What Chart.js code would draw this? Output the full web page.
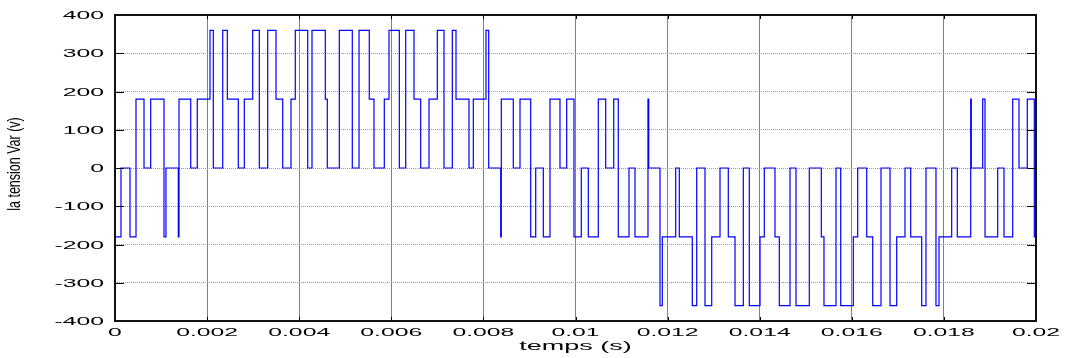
<!DOCTYPE html>
<html>
<head>
<meta charset="utf-8">
<script src="https://cdn.jsdelivr.net/npm/chart.js@4"></script>
<style>
html, body { margin: 0; padding: 0; background: #fff; }
#wrap { width: 1067px; height: 358px; }
</style>
</head>
<body>
<div id="wrap"><canvas id="chart" width="1067" height="358"></canvas></div>
<script>
// instants de commutation (s) et niveau de tension qui démarre à cet instant (V)
const temps = [
    0, 0, 0.000130, 0.000326, 0.000456, 0.000630, 0.000775, 0.001064, 0.001107, 0.001375,
    0.001390, 0.001644, 0.001787, 0.002063, 0.002135, 0.002339, 0.002439, 0.002678, 0.002808, 0.002990,
    0.003134, 0.003316, 0.003496, 0.003642, 0.003822, 0.003915, 0.004185, 0.004278, 0.004567, 0.004610,
    0.004871, 0.005153, 0.005299, 0.005522, 0.005624, 0.005848, 0.005950, 0.006174, 0.006313, 0.006493,
    0.006638, 0.006819, 0.006999, 0.007144, 0.007325, 0.007405, 0.007687, 0.007781, 0.008056, 0.008115,
    0.008376, 0.008389, 0.008649, 0.008795, 0.009027, 0.009136, 0.009301, 0.009446, 0.009663, 0.009809,
    0.009967, 0.010126, 0.010278, 0.010495, 0.010656, 0.010830, 0.010929, 0.011162, 0.011292, 0.011574,
    0.011590, 0.011835, 0.011885, 0.012176, 0.012254, 0.012536, 0.012632, 0.012812, 0.012958, 0.013138,
    0.013318, 0.013464, 0.013644, 0.013774, 0.014007, 0.014100, 0.014332, 0.014426, 0.014658, 0.014788,
    0.015077, 0.015338, 0.015396, 0.015657, 0.015759, 0.016033, 0.016128, 0.016324, 0.016454, 0.016634,
    0.016830, 0.016975, 0.017155, 0.017279, 0.017518, 0.017611, 0.017828, 0.017894, 0.018169, 0.018291,
    0.018582, 0.018595, 0.018842, 0.018893, 0.019168, 0.019305, 0.019494, 0.019631, 0.019811, 0.019963,
    0.020000
];
const tension = [
    180, -180, 0, -180, 180, 0, 180, -180, 0, -180,
    180, 0, 180, 360, 0, 360, 180, 0, 180, 360,
    0, 360, 180, 0, 180, 360, 0, 360, 180, 0,
    360, 0, 360, 180, 0, 180, 360, 0, 360, 180,
    0, 180, 360, 0, 360, 180, 0, 180, 360, 0,
    -180, 180, 0, 180, -180, 0, -180, 180, 0, 180,
    -180, 0, -180, 180, 0, 180, -180, 0, -180, 180,
    0, -360, -180, 0, -180, -360, 0, -360, -180, 0,
    -180, -360, 0, -360, -180, 0, -180, -360, 0, -360,
    0, -180, -360, 0, -360, -180, 0, -180, -360, 0,
    -360, -180, 0, -180, -360, 0, -360, -180, 0, -180,
    180, 0, 180, -180, 0, -180, 180, 0, 180, -180,
    -180
];

// graduations
const xTicks = [0, 0.002, 0.004, 0.006, 0.008, 0.01, 0.012, 0.014, 0.016, 0.018, 0.02];
const xTickLabels = ['0', '0.002', '0.004', '0.006', '0.008', '0.01', '0.012', '0.014', '0.016', '0.018', '0.02'];
const yTicks = [400, 300, 200, 100, 0, -100, -200, -300, -400];
const yTickLabels = ['400', '300', '200', '100', '0', '-100', '-200', '-300', '-400'];

const xTitle = 'temps (s)';
const yTitle = 'la tension Var (v)';

const FONT = '"Liberation Sans", Arial, sans-serif';
const STRETCH = 2.25; // l'image d'origine est étirée horizontalement

// Texte étiré (comme dans la figure d'origine)
function stretchedText(ctx, txt, x, y, align, size, sx) {
    ctx.save();
    ctx.translate(x, y);
    ctx.scale(sx, 1);
    ctx.font = size + 'px ' + FONT;
    ctx.textAlign = align;
    ctx.textBaseline = 'alphabetic';
    ctx.fillText(txt, 0, 0);
    ctx.restore();
}

// Cadre, petites graduations internes et libellés façon Matlab
const matlabAxes = {
    id: 'matlabAxes',
    afterDraw(chart) {
        const ctx = chart.ctx;
        const a = chart.chartArea;
        const xs = chart.scales.x;
        const ys = chart.scales.y;
        ctx.save();

        ctx.strokeStyle = '#000';
        ctx.lineWidth = 1;
        ctx.beginPath();
        xTicks.forEach(v => {
            const px = Math.round(xs.getPixelForValue(v)) + 0.5;
            ctx.moveTo(px, a.top); ctx.lineTo(px, a.top + 4);
            ctx.moveTo(px, a.bottom); ctx.lineTo(px, a.bottom - 4);
        });
        yTicks.forEach(v => {
            const py = Math.round(ys.getPixelForValue(v)) + 0.5;
            ctx.moveTo(a.left, py); ctx.lineTo(a.left + 9, py);
            ctx.moveTo(a.right, py); ctx.lineTo(a.right - 9, py);
        });
        ctx.stroke();

        ctx.lineWidth = 2;
        ctx.strokeStyle = '#111';
        ctx.strokeRect(a.left, a.top, a.right - a.left, a.bottom - a.top);

        ctx.fillStyle = '#000';
        yTicks.forEach((v, i) => {
            stretchedText(ctx, yTickLabels[i], 104, ys.getPixelForValue(v) + 4, 'right', 11, STRETCH);
        });
        xTicks.forEach((v, i) => {
            stretchedText(ctx, xTickLabels[i], xs.getPixelForValue(v), 336, 'center', 11, STRETCH);
        });
        stretchedText(ctx, xTitle, (a.left + a.right) / 2, 350, 'center', 12, STRETCH);

        // titre vertical
        ctx.save();
        ctx.translate(20, (a.top + a.bottom) / 2 - 4);
        ctx.rotate(-Math.PI / 2);
        ctx.scale(1, 1.5);
        ctx.font = '12.5px ' + FONT;
        ctx.textAlign = 'center';
        ctx.textBaseline = 'alphabetic';
        ctx.fillText(yTitle, 0, 0);
        ctx.restore();

        ctx.restore();
    }
};

const points = temps.map((t, i) => ({ x: t, y: tension[i] }));

new Chart(document.getElementById('chart').getContext('2d'), {
    type: 'line',
    data: {
        datasets: [{
            data: points,
            borderColor: '#0000ff',
            borderWidth: 1.2,
            pointRadius: 0,
            stepped: 'before',
            fill: false
        }]
    },
    options: {
        responsive: false,
        devicePixelRatio: 1,
        animation: false,
        layout: { padding: { left: 115, right: 31, top: 15, bottom: 37 } },
        plugins: {
            legend: { display: false },
            tooltip: { enabled: false }
        },
        scales: {
            x: {
                type: 'linear',
                min: 0,
                max: 0.02,
                afterBuildTicks: (axis) => { axis.ticks = xTicks.map(v => ({ value: v })); },
                ticks: { display: false },
                grid: { color: '#808080', lineWidth: 1, drawTicks: false },
                border: { display: false }
            },
            y: {
                min: -400,
                max: 400,
                afterBuildTicks: (axis) => { axis.ticks = yTicks.map(v => ({ value: v })); },
                ticks: { display: false },
                grid: { color: '#9a9a9a', lineWidth: 1, drawTicks: false },
                border: { display: false, dash: [1, 1] }
            }
        }
    },
    plugins: [matlabAxes]
});
</script>
</body>
</html>
